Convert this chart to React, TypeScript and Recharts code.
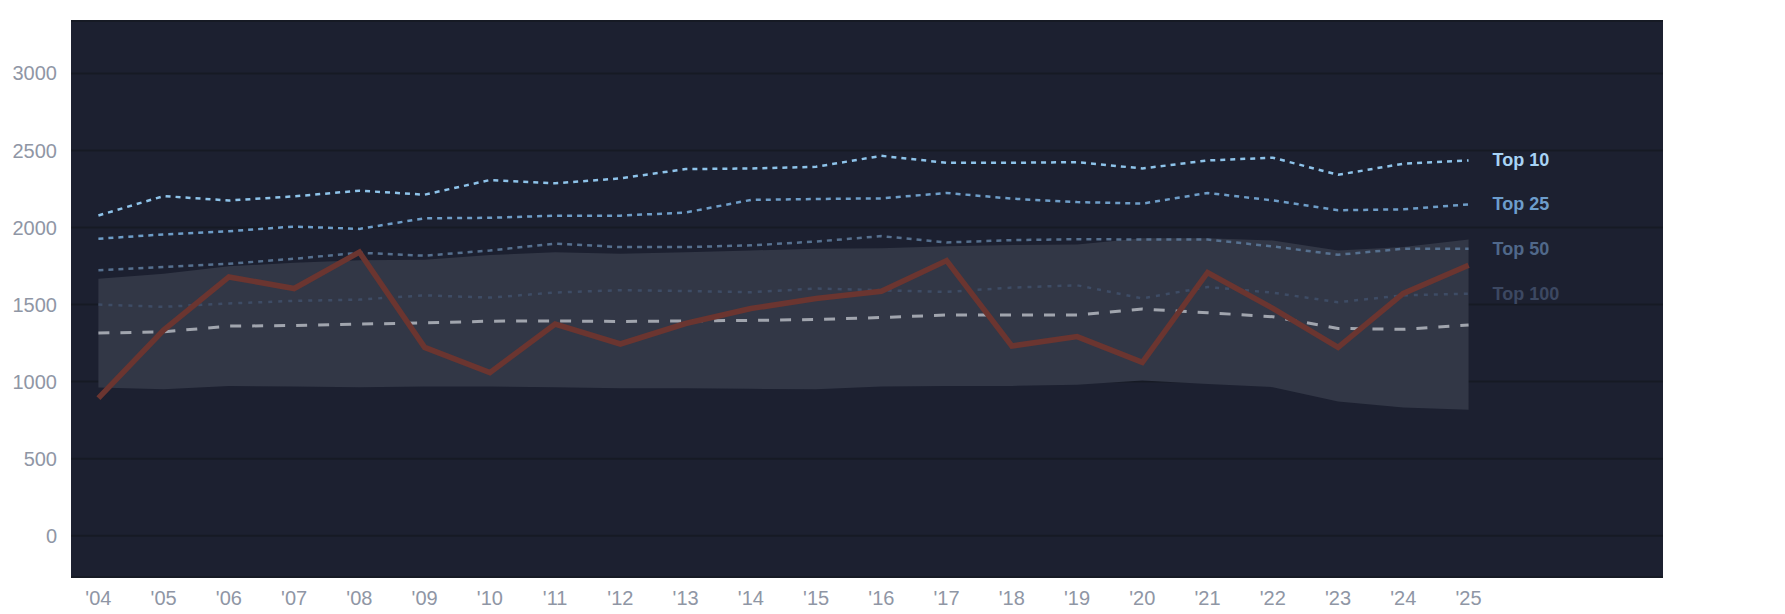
import { Area, CartesianGrid, ComposedChart, Line, XAxis, YAxis } from "recharts";

const years = [2004, 2005, 2006, 2007, 2008, 2009, 2010, 2011, 2012, 2013, 2014, 2015, 2016, 2017, 2018, 2019, 2020, 2021, 2022, 2023, 2024, 2025];

const top10 = [2078, 2204, 2175, 2202, 2239, 2213, 2308, 2287, 2319, 2379, 2383, 2394, 2465, 2420, 2420, 2424, 2383, 2435, 2453, 2342, 2414, 2435];
const top25 = [1927, 1955, 1976, 2006, 1991, 2060, 2063, 2077, 2077, 2097, 2179, 2185, 2189, 2224, 2187, 2165, 2155, 2224, 2176, 2112, 2118, 2150];
const top50 = [1722, 1743, 1765, 1797, 1836, 1817, 1851, 1895, 1873, 1873, 1884, 1909, 1944, 1903, 1918, 1924, 1922, 1922, 1877, 1823, 1862, 1862];
const top100 = [1500, 1485, 1507, 1524, 1532, 1560, 1545, 1578, 1593, 1588, 1580, 1604, 1593, 1582, 1610, 1625, 1540, 1614, 1577, 1515, 1560, 1571];
const median = [1315, 1323, 1360, 1364, 1373, 1381, 1392, 1394, 1390, 1394, 1397, 1403, 1416, 1432, 1432, 1432, 1471, 1447, 1421, 1345, 1339, 1367];
const bandHigh = [1668, 1700, 1748, 1772, 1787, 1791, 1821, 1840, 1830, 1840, 1851, 1862, 1866, 1879, 1886, 1890, 1931, 1931, 1916, 1851, 1873, 1922];
const bandLow = [961, 951, 972, 968, 964, 968, 968, 964, 957, 957, 953, 951, 968, 972, 972, 979, 1007, 985, 964, 871, 832, 817];
const player = [893, 1334, 1679, 1604, 1840, 1222, 1058, 1373, 1244, 1377, 1474, 1539, 1586, 1785, 1231, 1292, 1125, 1708, 1475, 1222, 1572, 1755];

const yTicks = [0, 500, 1000, 1500, 2000, 2500, 3000];

const data = years.map((year, i) => ({
  year,
  top10: top10[i],
  top25: top25[i],
  top50: top50[i],
  top100: top100[i],
  median: median[i],
  band: [bandLow[i], bandHigh[i]],
  player: player[i],
}));

const font = "'Liberation Sans', Arial, sans-serif";
const axisStyle = { fontSize: 20, fill: "#8f96a5", fontFamily: font };

// label drawn only next to the last point of a line
const endLabel = (text: string, color: string) => (props: any) => {
  if (props.index !== years.length - 1) return null;
  return (
    <text
      x={props.x + 24}
      y={props.y}
      fill={color}
      fontSize={18}
      fontWeight="bold"
      fontFamily={font}
      dominantBaseline="central"
    >
      {text}
    </text>
  );
};

export default function App() {
  return (
    <div style={{ width: 1769, height: 600 }}>
      <ComposedChart width={1769} height={600} data={data} margin={{ top: 13, right: 114, left: 0, bottom: 0 }}>
        <CartesianGrid vertical={false} fill="#1c2030" stroke="#161a24" strokeWidth={2} />
        <XAxis
          dataKey="year"
          type="number"
          domain={[2003.58, 2027.98]}
          ticks={years}
          tickFormatter={(v) => `'${String(v).slice(2)}`}
          tick={axisStyle}
          axisLine={false}
          tickLine={false}
          tickMargin={8}
          height={31}
          allowDataOverflow
        />
        <YAxis
          type="number"
          domain={[-268, 3340]}
          ticks={yTicks}
          tick={axisStyle}
          axisLine={false}
          tickLine={false}
          tickMargin={8}
          width={63}
          allowDataOverflow
        />
        <Area dataKey="band" stroke="none" fill="#323746" fillOpacity={1} isAnimationActive={false} />
        <Line dataKey="top100" stroke="#3e4c65" strokeWidth={2.5} strokeDasharray="4 6" dot={false} isAnimationActive={false} label={endLabel("Top 100", "#3c4862")} />
        <Line dataKey="top50" stroke="#56708f" strokeWidth={2.5} strokeDasharray="5 5" dot={false} isAnimationActive={false} label={endLabel("Top 50", "#50688a")} />
        <Line dataKey="top25" stroke="#6e9dc8" strokeWidth={2.5} strokeDasharray="5 5" dot={false} isAnimationActive={false} label={endLabel("Top 25", "#6d9dcc")} />
        <Line dataKey="top10" stroke="#8ec3ea" strokeWidth={2.5} strokeDasharray="5 5" dot={false} isAnimationActive={false} label={endLabel("Top 10", "#a8d3f5")} />
        <Line dataKey="median" stroke="#a1a5ae" strokeWidth={3} strokeDasharray="11 11" dot={false} isAnimationActive={false} />
        <Line dataKey="player" stroke="#6b3530" strokeWidth={5.5} dot={false} isAnimationActive={false} />
      </ComposedChart>
    </div>
  );
}
